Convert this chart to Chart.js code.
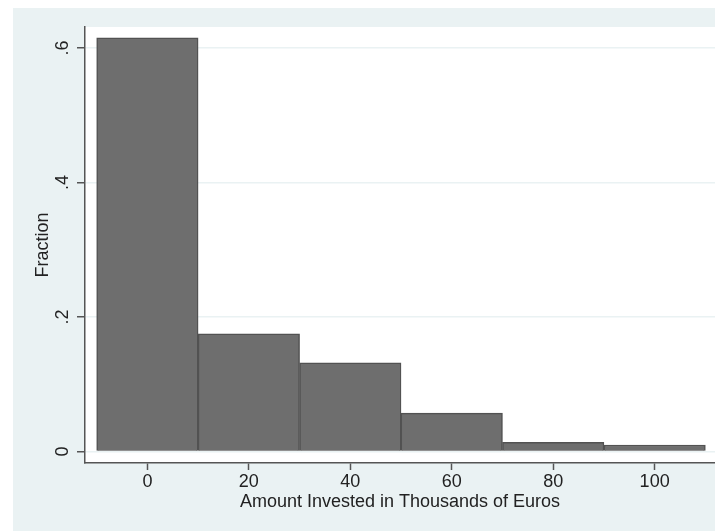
<!DOCTYPE html>
<html>
<head>
<meta charset="utf-8">
<script src="https://cdn.jsdelivr.net/npm/chart.js@4/dist/chart.umd.min.js"></script>
<style>
  body { margin: 0; background: #fff; }
  #wrap { width: 715px; height: 531px; }
</style>
</head>
<body>
<div id="wrap"><canvas id="histChart" width="715" height="531"></canvas></div>
<script>
// histogram bins (centres, thousands of euros) and fractions
const binCenters = [0, 20, 40, 60, 80, 100];
const fractions = [0.615, 0.175, 0.132, 0.057, 0.0137, 0.0097];

const xTicks = [0, 20, 40, 60, 80, 100];
const yTicks = [0, 0.2, 0.4, 0.6];
const yTickLabels = ['0', '.2', '.4', '.6'];

const xTitle = 'Amount Invested in Thousands of Euros';
const yTitle = 'Fraction';

const FONT = '18px "Liberation Sans", Arial, sans-serif';
const TEXT = '#222';

const stataBackground = {
  id: 'stataBackground',
  beforeDraw(chart) {
    const ctx = chart.ctx;
    const area = chart.chartArea;
    ctx.save();
    ctx.fillStyle = '#fff';
    ctx.fillRect(0, 0, chart.width, chart.height);
    ctx.fillStyle = '#eaf2f3';
    ctx.fillRect(13, 8, chart.width - 13, chart.height - 8);
    ctx.fillStyle = '#fff';
    ctx.fillRect(area.left, area.top, area.right - area.left, area.bottom - area.top);
    ctx.restore();
  },
  afterDraw(chart) {
    const ctx = chart.ctx;
    const area = chart.chartArea;
    const xs = chart.scales.x;
    const ys = chart.scales.y;

    ctx.save();
    ctx.font = FONT;
    ctx.fillStyle = TEXT;
    ctx.textAlign = 'center';
    ctx.textBaseline = 'middle';

    // x tick labels
    xTicks.forEach(function(v) {
      ctx.fillText(String(v), xs.getPixelForValue(v), 482);
    });

    // x title
    ctx.fillText(xTitle, (area.left + area.right) / 2, 502);

    // y tick labels, rotated like stata
    yTicks.forEach(function(v, i) {
      ctx.save();
      ctx.translate(63, ys.getPixelForValue(v));
      ctx.rotate(-Math.PI / 2);
      ctx.fillText(yTickLabels[i], 0, 0);
      ctx.restore();
    });

    // y title
    ctx.save();
    ctx.translate(43, (area.top + area.bottom) / 2);
    ctx.rotate(-Math.PI / 2);
    ctx.fillText(yTitle, 0, 0);
    ctx.restore();

    ctx.restore();
  }
};

function buildChart() {
  const ctx = document.getElementById('histChart').getContext('2d');

  const myChart = new Chart(ctx, {
    type: 'bar',
    data: {
      datasets: [{
        data: binCenters.map(function(c, i) { return { x: c, y: fractions[i] }; }),
        backgroundColor: '#6e6e6e',
        borderColor: '#525252',
        borderWidth: 1.5,
        barPercentage: 1,
        categoryPercentage: 1
      }]
    },
    options: {
      responsive: false,
      animation: false,
      layout: { padding: { top: 27, left: 0, right: 0, bottom: 0 } },
      plugins: {
        legend: { display: false },
        tooltip: { enabled: false }
      },
      scales: {
        x: {
          type: 'linear',
          offset: false,
          min: -12.3,
          max: 111.9,
          afterBuildTicks: function(scale) {
            scale.ticks = xTicks.map(function(v) { return { value: v }; });
          },
          afterFit: function(scale) { scale.height = 68; },
          ticks: { display: false },
          grid: {
            offset: false,
            drawOnChartArea: false,
            drawTicks: true,
            tickLength: 7,
            tickColor: '#555',
            tickWidth: 1.5
          },
          border: { color: '#555', width: 1.5 }
        },
        y: {
          min: -0.0171,
          max: 0.6312,
          afterBuildTicks: function(scale) {
            scale.ticks = yTicks.map(function(v) { return { value: v }; });
          },
          afterFit: function(scale) { scale.width = 85; },
          ticks: { display: false },
          grid: {
            color: '#eaf2f3',
            lineWidth: 1.5,
            drawTicks: true,
            tickLength: 8,
            tickColor: '#555',
            tickWidth: 1.5
          },
          border: { color: '#555', width: 1.5 }
        }
      }
    },
    plugins: [stataBackground]
  });

  return myChart;
}

buildChart();
</script>
</body>
</html>
